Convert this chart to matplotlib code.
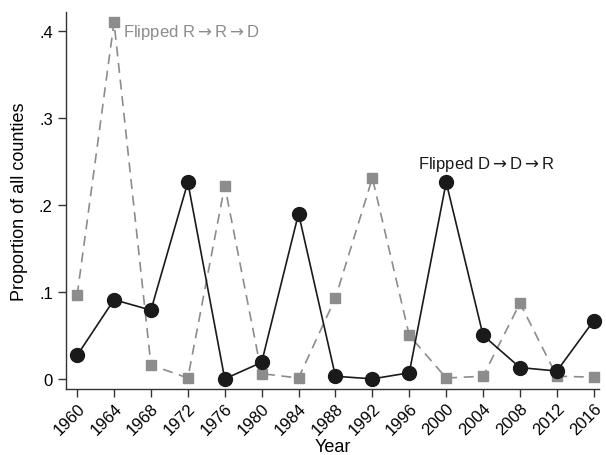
import matplotlib
matplotlib.use("Agg")
import matplotlib.pyplot as plt

plt.rcParams['font.family'] = ['Liberation Sans', 'DejaVu Sans']
plt.rcParams['mathtext.fontset'] = 'dejavusans'

years = [1960, 1964, 1968, 1972, 1976, 1980, 1984, 1988, 1992, 1996, 2000, 2004, 2008, 2012, 2016]
flip_ddr = [0.027, 0.091, 0.079, 0.226, 0.0, 0.019, 0.19, 0.003, 0.0, 0.007, 0.226, 0.05, 0.013, 0.009, 0.067]
flip_rrd = [0.096, 0.41, 0.016, 0.001, 0.222, 0.006, 0.001, 0.093, 0.231, 0.05, 0.001, 0.003, 0.087, 0.003, 0.002]
yticks = [0, 0.1, 0.2, 0.3, 0.4]
ytick_labels = ['0', '.1', '.2', '.3', '.4']

black = '#1a1a1a'
gray = '#8c8c8c'

fig = plt.figure(figsize=(6.06, 4.56), dpi=100)
ax = fig.add_axes([0.109, 0.145, 0.88, 0.827])

ax.plot(years, flip_rrd, color=gray, lw=1.2, ls=(0, (6, 4)), marker='s', ms=7,
        mfc=gray, mec=gray, clip_on=False, zorder=2)
ax.plot(years, flip_ddr, color=black, lw=1.2, marker='o', ms=10,
        mfc=black, mec=black, clip_on=False, zorder=3)

ax.text(1965.0, 0.399, r'Flipped R$\rightarrow$R$\rightarrow$D', color=gray, fontsize=12, va='center', ha='left')
ax.text(1996.9, 0.248, r'Flipped D$\rightarrow$D$\rightarrow$R', color=black, fontsize=12, va='center', ha='left')

ax.set_xlim(1958.8, 2016.6)
ax.set_ylim(-0.0115, 0.422)
ax.set_xticks(years)
ax.set_xticklabels([str(y) for y in years], rotation=45, ha='right', rotation_mode='anchor', fontsize=12)
ax.set_yticks(yticks)
ax.set_yticklabels(ytick_labels, fontsize=12)
ax.tick_params(axis='both', direction='out', length=6, width=1, color='#333333')
ax.tick_params(axis='x', pad=2)
ax.spines['top'].set_visible(False)
ax.spines['right'].set_visible(False)
for s in ['left', 'bottom']:
    ax.spines[s].set_color('#333333')
    ax.spines[s].set_linewidth(1)

ax.set_xlabel('Year', fontsize=13, labelpad=1)
ax.set_ylabel('Proportion of all counties', fontsize=13, labelpad=8)

fig.savefig('out.png', dpi=100)
